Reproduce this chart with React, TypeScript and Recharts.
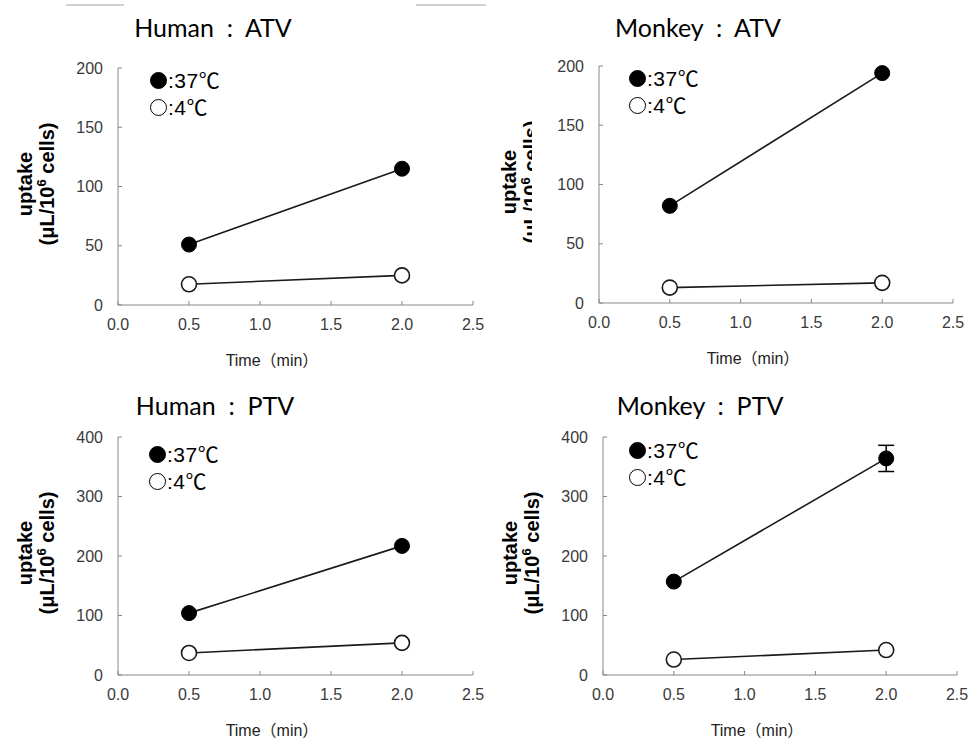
import React from 'react';
import { LineChart, Line, XAxis, YAxis, ErrorBar } from 'recharts';

// time points (min)
const times = [0.5, 2.0];
const xTicks = [0, 0.5, 1.0, 1.5, 2.0, 2.5];

// uptake (µL/10^6 cells)
const humanAtvWarm = [51, 115];
const humanAtvCold = [17.5, 25];
const monkeyAtvWarm = [82, 194];
const monkeyAtvCold = [13, 17];
const humanPtvWarm = [104, 217];
const humanPtvCold = [37, 54];
const monkeyPtvWarm = [157, 364];
const monkeyPtvCold = [26, 42];
const monkeyPtvWarmErr = [0, 22];

const atvTicks = [0, 50, 100, 150, 200];
const ptvTicks = [0, 100, 200, 300, 400];

const TICK_FONT = '"Liberation Sans", Arial, sans-serif';
const TITLE_FONT = 'Lato, "Noto Sans CJK JP", sans-serif';
const MIXED_FONT = '"Liberation Sans", "Noto Sans CJK JP", sans-serif';
const Y_W = 60;
const X_H = 30;
const CHART_W = 500;
const CHART_H = 372;

type Plot = { x0: number; x1: number; y0: number; y1: number };

function makeRows(warm: number[], cold: number[], err?: number[]) {
  return times.map((t, i) => ({
    t,
    warm: warm[i],
    cold: cold[i],
    err: err ? err[i] : undefined,
  }));
}

function Panel({
  left, top, title, titleX, titleY, warm, cold, err, yTicks, plot, legendX, legendY, labelX, clipLabel,
}: {
  left: number; top: number; title: string; titleX: number; titleY: number;
  warm: number[]; cold: number[]; err?: number[]; yTicks: number[]; plot: Plot;
  legendX: number; legendY: number; labelX: number; clipLabel?: boolean;
}) {
  const rows = makeRows(warm, cold, err);
  const yMax = yTicks[yTicks.length - 1];
  const tick = { fontSize: 16, fill: '#3a3a3a', fontFamily: TICK_FONT };
  const midY = (plot.y0 + plot.y1) / 2;

  return (
    <div style={{ position: 'absolute', left, top, width: CHART_W, height: CHART_H }}>
      <LineChart
        width={CHART_W}
        height={CHART_H}
        data={rows}
        margin={{ left: plot.x0 - Y_W, right: CHART_W - plot.x1, top: plot.y0, bottom: CHART_H - plot.y1 - X_H }}
      >
        <XAxis
          dataKey="t"
          type="number"
          domain={[0, 2.5]}
          ticks={xTicks}
          tickFormatter={(v: number) => v.toFixed(1)}
          height={X_H}
          stroke="#888"
          tickSize={-4}
          tickMargin={18}
          tick={tick}
        />
        <YAxis
          type="number"
          domain={[0, yMax]}
          ticks={yTicks}
          width={Y_W}
          stroke="#888"
          tickSize={-4}
          tickMargin={19}
          tick={tick}
        />
        <Line
          dataKey="cold"
          stroke="#1a1a1a"
          strokeWidth={1.6}
          dot={{ r: 7.5, fill: '#fff', stroke: '#1a1a1a', strokeWidth: 1.6 }}
          isAnimationActive={false}
        />
        <Line
          dataKey="warm"
          stroke="#1a1a1a"
          strokeWidth={1.6}
          dot={{ r: 7.5, fill: '#000', stroke: '#000', strokeWidth: 1 }}
          isAnimationActive={false}
        >
          {err && <ErrorBar dataKey="err" direction="y" width={8} stroke="#000" strokeWidth={1.5} />}
        </Line>
      </LineChart>

      {/* panel title */}
      <div
        style={{
          position: 'absolute', left: titleX, top: titleY, transform: 'translate(-50%, -50%)',
          fontFamily: TITLE_FONT, fontSize: 25, whiteSpace: 'pre', color: '#000',
        }}
      >
        {title}
      </div>

      {/* legend */}
      {[
        { label: ':37℃', fill: '#000', dy: 0 },
        { label: ':4℃', fill: '#fff', dy: 27 },
      ].map((l) => (
        <div key={l.label}>
          <div
            style={{
              position: 'absolute', left: legendX - 8.5, top: legendY + l.dy - 8.5, width: 17, height: 17,
              boxSizing: 'border-box', borderRadius: '50%', background: l.fill, border: '1.6px solid #000',
            }}
          />
          <div
            style={{
              position: 'absolute', left: legendX + 10, top: legendY + l.dy, transform: 'translateY(-52%)',
              fontFamily: MIXED_FONT, fontSize: 21, whiteSpace: 'nowrap', letterSpacing: 0.5,
            }}
          >
            {l.label}
          </div>
        </div>
      ))}

      {/* y axis title */}
      <div
        style={{
          position: 'absolute', left: labelX, top: midY - 3, transform: 'translate(-50%, -50%) rotate(-90deg)',
          fontFamily: TICK_FONT, fontWeight: 'bold', fontSize: 20, lineHeight: '22px', textAlign: 'center',
          whiteSpace: 'nowrap',
        }}
      >
        uptake
        <br />
        (μL/10<span style={{ fontSize: 13, position: 'relative', top: -8 }}>6</span> cells)
      </div>
      {clipLabel && (
        <div style={{ position: 'absolute', left: 52, top: 95, width: 22, height: 180, background: '#fff' }} />
      )}

      {/* x axis title */}
      <div
        style={{
          position: 'absolute', left: plot.x0 + 154, top: plot.y1 + 54, transform: 'translate(-50%, -50%)',
          fontFamily: MIXED_FONT, fontSize: 16, color: '#222', whiteSpace: 'nowrap',
        }}
      >
        Time（min）
      </div>
    </div>
  );
}

export default function App() {
  return (
    <div style={{ position: 'absolute', left: 0, top: 0, width: 969, height: 744, background: '#fff', overflow: 'hidden' }}>
      <div style={{ position: 'absolute', left: 66, top: 4, width: 58, height: 2, background: '#cfcfcf' }} />
      <div style={{ position: 'absolute', left: 416, top: 4, width: 70, height: 2, background: '#cfcfcf' }} />

      <Panel
        left={0} top={0} title="Human  :  ATV" titleX={213} titleY={27}
        warm={humanAtvWarm} cold={humanAtvCold} yTicks={atvTicks}
        plot={{ x0: 118, x1: 473, y0: 68, y1: 305 }}
        legendX={158} legendY={80} labelX={37}
      />
      <Panel
        left={480} top={0} title="Monkey  :  ATV" titleX={218} titleY={27}
        warm={monkeyAtvWarm} cold={monkeyAtvCold} yTicks={atvTicks}
        plot={{ x0: 119, x1: 473, y0: 66, y1: 303 }}
        legendX={157} legendY={78} labelX={41} clipLabel
      />
      <Panel
        left={0} top={372} title="Human  :  PTV" titleX={215} titleY={33}
        warm={humanPtvWarm} cold={humanPtvCold} yTicks={ptvTicks}
        plot={{ x0: 118, x1: 473, y0: 65, y1: 303 }}
        legendX={157} legendY={82} labelX={37}
      />
      <Panel
        left={480} top={372} title="Monkey  :  PTV" titleX={220} titleY={33}
        warm={monkeyPtvWarm} cold={monkeyPtvCold} err={monkeyPtvWarmErr} yTicks={ptvTicks}
        plot={{ x0: 123, x1: 477, y0: 65, y1: 303 }}
        legendX={157} legendY={78} labelX={42}
      />
    </div>
  );
}
